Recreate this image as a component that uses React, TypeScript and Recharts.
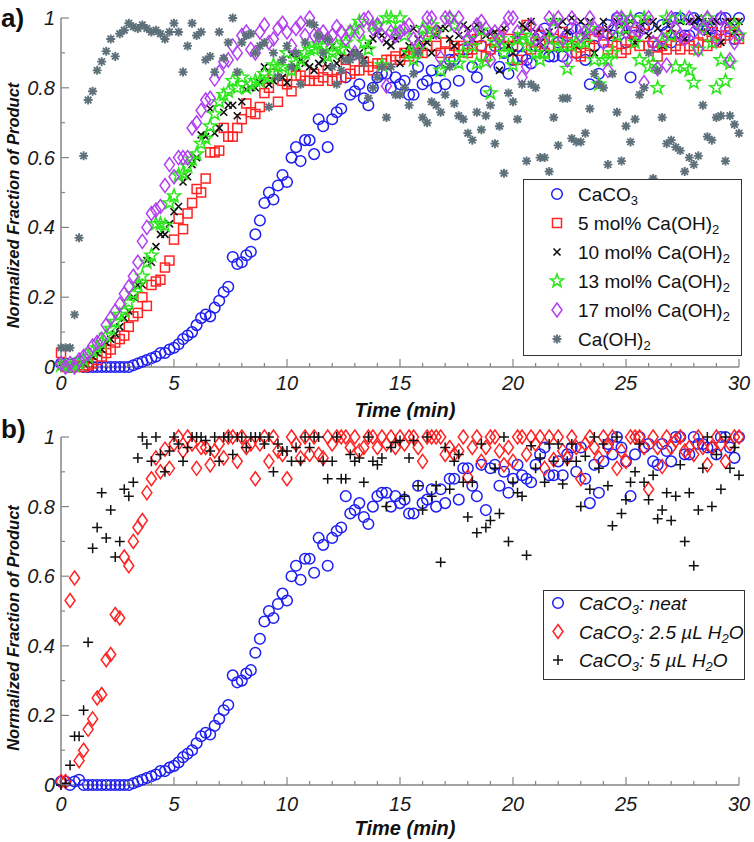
import React from 'react';
import { ScatterChart, Scatter, XAxis, YAxis, Legend } from 'recharts';

// sampling times (min), shared by every series
const TIME = [
  0, 0.2, 0.4, 0.6, 0.8, 1, 1.2, 1.4, 1.6, 1.8, 2, 2.2, 2.4, 2.6, 2.8, 3, 3.2, 3.4, 3.6, 3.8, 4, 4.2, 4.4, 4.6, 4.8,
  5, 5.2, 5.4, 5.6, 5.8, 6, 6.2, 6.4, 6.6, 6.8, 7, 7.2, 7.4, 7.6, 7.8, 8, 8.2, 8.4, 8.6, 8.8, 9, 9.2, 9.4, 9.6, 9.8,
  10, 10.2, 10.4, 10.6, 10.8, 11, 11.2, 11.4, 11.6, 11.8, 12, 12.2, 12.4, 12.6, 12.8, 13, 13.2, 13.4, 13.6, 13.8, 14, 14.2, 14.4, 14.6, 14.8,
  15, 15.2, 15.4, 15.6, 15.8, 16, 16.2, 16.4, 16.6, 16.8, 17, 17.2, 17.4, 17.6, 17.8, 18, 18.2, 18.4, 18.6, 18.8, 19, 19.2, 19.4, 19.6, 19.8,
  20, 20.2, 20.4, 20.6, 20.8, 21, 21.2, 21.4, 21.6, 21.8, 22, 22.2, 22.4, 22.6, 22.8, 23, 23.2, 23.4, 23.6, 23.8, 24, 24.2, 24.4, 24.6, 24.8,
  25, 25.2, 25.4, 25.6, 25.8, 26, 26.2, 26.4, 26.6, 26.8, 27, 27.2, 27.4, 27.6, 27.8, 28, 28.2, 28.4, 28.6, 28.8, 29, 29.2, 29.4, 29.6, 29.8,
  30,
];

// panel a
const CACO3 = [
  0.01, 0.01, 0, 0.01, 0.015, 0, 0, 0, 0, 0, 0, 0, 0, 0, 0, 0, 0.005, 0.01, 0.015, 0.02, 0.025, 0.03, 0.04, 0.04, 0.05,
  0.055, 0.065, 0.08, 0.09, 0.1, 0.12, 0.14, 0.15, 0.145, 0.17, 0.19, 0.215, 0.23, 0.315, 0.295, 0.3, 0.32, 0.33, 0.38, 0.42, 0.47, 0.5, 0.48, 0.52, 0.55,
  0.53, 0.6, 0.63, 0.59, 0.65, 0.65, 0.61, 0.71, 0.69, 0.63, 0.71, 0.73, 0.74, 0.83, 0.78, 0.79, 0.81, 0.77, 0.75, 0.8, 0.83, 0.84, 0.84, 0.8, 0.83,
  0.81, 0.82, 0.78, 0.78, 0.86, 0.81, 0.82, 0.85, 0.8, 0.85, 0.81, 0.88, 0.88, 0.82, 0.91, 0.91, 0.86, 0.83, 0.92, 0.79, 0.91, 0.92, 0.86, 0.9, 0.84,
  0.88, 0.92, 0.89, 0.88, 0.87, 0.92, 0.95, 0.97, 0.89, 0.89, 0.93, 0.89, 0.95, 0.97, 0.9, 0.97, 0.88, 0.81, 0.92, 0.84, 0.93, 0.98, 0.95, 1, 0.97,
  0.93, 0.83, 0.95, 1, 0.97, 0.98, 0.93, 0.92, 0.98, 0.96, 0.93, 1, 1, 0.95, 0.95, 1, 0.98, 0.98, 0.97, 0.97, 0.95, 1, 1, 0.97, 0.94,
  1,
];
const MOL5 = [
  0.04, 0, 0, 0, 0.005, 0, 0.005, 0.01, 0.02, 0.03, 0.04, 0.05, 0.07, 0.08, 0.09, 0.115, 0.145, 0.155, 0.2, 0.175, 0.235, 0.245, 0.25, 0.285, 0.305,
  0.365, 0.425, 0.395, 0.44, 0.47, 0.51, 0.5, 0.54, 0.615, 0.615, 0.62, 0.685, 0.66, 0.66, 0.685, 0.71, 0.755, 0.73, 0.725, 0.745, 0.785, 0.8, 0.84, 0.76, 0.82,
  0.81, 0.79, 0.835, 0.835, 0.82, 0.82, 0.84, 0.82, 0.83, 0.85, 0.82, 0.825, 0.83, 0.88, 0.84, 0.85, 0.85, 0.875, 0.86, 0.85, 0.87, 0.87, 0.88, 0.88, 0.89,
  0.88, 0.9, 0.89, 0.91, 0.9, 0.9, 0.92, 0.96, 0.92, 0.9, 0.93, 0.9, 0.92, 0.91, 0.92, 0.9, 0.91, 0.94, 0.92, 0.89, 0.91, 0.93, 0.95, 0.92, 0.94,
  0.92, 0.88, 0.94, 0.98, 0.91, 0.93, 0.95, 0.9, 0.92, 0.94, 0.92, 0.96, 0.93, 0.92, 0.9, 0.89, 0.9, 0.92, 0.94, 0.96, 0.95, 0.91, 0.93, 0.92, 0.9,
  0.91, 0.93, 0.96, 0.92, 0.98, 0.92, 0.93, 0.89, 0.92, 0.91, 0.95, 0.92, 0.91, 0.94, 0.92, 0.91, 0.93, 0.95, 0.92, 0.96, 0.93, 0.94, 0.95, 0.96, 0.985,
  0.94,
];
const MOL10 = [
  0.01, 0, 0, 0.005, 0.005, 0.01, 0.02, 0.03, 0.04, 0.05, 0.07, 0.08, 0.095, 0.115, 0.14, 0.16, 0.2, 0.235, 0.235, 0.305, 0.3, 0.345, 0.38, 0.38, 0.41,
  0.445, 0.46, 0.53, 0.545, 0.58, 0.6, 0.665, 0.66, 0.74, 0.67, 0.685, 0.73, 0.75, 0.75, 0.72, 0.76, 0.795, 0.8, 0.8, 0.815, 0.86, 0.81, 0.82, 0.83, 0.83,
  0.815, 0.895, 0.86, 0.88, 0.87, 0.86, 0.85, 0.87, 0.88, 0.86, 0.92, 0.87, 0.89, 0.88, 0.9, 0.9, 0.9, 0.88, 0.92, 0.94, 0.96, 0.95, 0.93, 0.92, 0.94,
  0.87, 0.9, 0.92, 0.97, 0.94, 0.92, 0.93, 0.9, 0.95, 0.97, 0.97, 0.94, 0.92, 0.95, 0.98, 0.97, 0.94, 0.98, 0.96, 0.95, 0.955, 0.96, 0.85, 0.97, 0.92,
  0.9, 0.95, 0.98, 0.97, 0.99, 0.96, 0.93, 0.91, 0.96, 0.99, 0.98, 0.99, 0.96, 1, 0.92, 0.99, 0.95, 0.99, 0.9, 0.96, 0.99, 0.97, 0.95, 0.99, 0.98,
  0.96, 0.99, 0.93, 0.97, 0.99, 0.95, 0.99, 0.97, 0.92, 0.99, 0.97, 0.95, 0.99, 0.94, 0.99, 0.99, 1, 0.99, 0.96, 0.99, 0.99, 0.93, 0.99, 0.99, 0.96,
  0.99,
];
const MOL13 = [
  0.005, 0.005, 0, 0.005, 0.01, 0.02, 0.03, 0.045, 0.055, 0.07, 0.09, 0.11, 0.13, 0.15, 0.16, 0.185, 0.21, 0.235, 0.26, 0.3, 0.32, 0.41, 0.41, 0.405, 0.47,
  0.49, 0.55, 0.555, 0.575, 0.595, 0.61, 0.64, 0.655, 0.69, 0.725, 0.76, 0.78, 0.79, 0.82, 0.8, 0.83, 0.8, 0.81, 0.82, 0.82, 0.84, 0.83, 0.865, 0.86, 0.86,
  0.9, 0.85, 0.87, 0.88, 0.9, 0.91, 0.91, 0.925, 0.92, 0.89, 0.9, 0.92, 0.91, 0.93, 0.96, 0.97, 0.99, 0.93, 0.91, 0.98, 0.98, 0.865, 1, 1, 0.96,
  1, 0.95, 0.9, 0.88, 0.91, 0.97, 0.95, 0.98, 0.96, 0.85, 0.87, 1, 0.98, 0.87, 0.9, 0.94, 0.92, 0.87, 0.965, 0.875, 0.785, 0.93, 0.94, 0.9, 0.92,
  0.865, 0.94, 0.95, 0.92, 0.94, 0.9, 0.88, 0.9, 0.94, 0.99, 0.92, 0.92, 0.855, 0.92, 0.93, 0.94, 0.93, 0.97, 0.88, 0.81, 0.88, 0.88, 0.9, 0.95, 1,
  0.97, 1, 0.93, 0.88, 1, 0.86, 0.87, 0.8, 0.93, 1, 0.95, 0.86, 1, 0.86, 0.85, 0.815, 0.91, 0.97, 1, 0.93, 0.8, 0.88, 0.82, 0.87, 0.98,
  0.95,
];
const MOL17 = [
  0.01, 0, 0.01, 0, 0.02, 0.03, 0.04, 0.06, 0.07, 0.08, 0.12, 0.14, 0.16, 0.18, 0.21, 0.23, 0.26, 0.3, 0.36, 0.4, 0.44, 0.45, 0.46, 0.52, 0.58,
  0.545, 0.6, 0.6, 0.6, 0.685, 0.7, 0.735, 0.765, 0.77, 0.825, 0.845, 0.875, 0.88, 0.92, 0.9, 0.95, 0.96, 0.91, 0.9, 0.96, 0.98, 0.93, 0.94, 0.97, 0.985,
  0.96, 0.92, 0.97, 0.985, 0.95, 1, 0.95, 0.95, 0.96, 0.94, 0.95, 0.975, 0.96, 0.94, 0.96, 0.9, 0.96, 0.995, 1, 0.97, 0.98, 0.95, 0.805, 0.96, 0.95,
  0.96, 0.97, 0.98, 0.94, 0.92, 0.96, 1, 1, 0.96, 0.885, 1, 1, 0.98, 1, 0.96, 0.94, 0.95, 0.98, 0.99, 0.97, 0.88, 0.96, 0.94, 0.97, 1,
  1, 0.96, 0.83, 0.86, 0.98, 0.94, 0.96, 0.93, 1, 0.97, 1, 0.94, 0.88, 1, 0.97, 0.95, 0.96, 1, 0.97, 0.96, 0.93, 0.85, 0.97, 1, 1,
  0.96, 0.99, 0.97, 0.96, 0.815, 1, 0.93, 0.855, 0.94, 0.865, 1, 0.97, 0.95, 0.94, 1, 0.96, 0.91, 0.97, 1, 0.98, 0.94, 1, 0.97, 0.88, 0.93,
  0.95,
];
const CAOH2 = [
  0.055, 0.055, 0.055, 0.15, 0.37, 0.605, 0.765, 0.79, 0.85, 0.875, 0.905, 0.94, 0.89, 0.955, 0.965, 0.985, 0.975, 0.97, 0.98, 0.97, 0.96, 0.965, 0.955, 0.94, 0.96,
  0.985, 0.96, 0.845, 0.92, 0.985, 0.95, 0.96, 0.88, 0.89, 0.845, 0.96, 0.885, 0.93, 1, 0.845, 0.93, 0.95, 0.955, 0.9, 0.92, 0.93, 0.745, 0.9, 0.83, 0.88,
  0.92, 0.86, 0.9, 0.81, 0.93, 0.985, 0.98, 0.95, 0.9, 0.94, 0.86, 0.81, 0.85, 0.88, 0.88, 0.9, 0.89, 0.87, 0.77, 0.8, 0.83, 0.86, 0.715, 0.86, 0.78,
  0.78, 0.8, 0.75, 0.84, 0.9, 0.715, 0.7, 0.76, 0.75, 0.73, 0.78, 0.86, 0.755, 0.72, 0.71, 0.67, 0.65, 0.73, 0.68, 0.72, 0.75, 0.64, 0.69, 0.555, 0.785,
  0.76, 0.71, 0.81, 0.59, 0.81, 0.8, 0.6, 0.6, 0.56, 0.715, 0.635, 0.77, 0.77, 0.655, 0.645, 0.645, 0.67, 0.74, 0.84, 0.81, 0.8, 0.58, 0.84, 0.73, 0.59,
  0.69, 0.645, 0.71, 0.78, 0.8, 0.9, 0.54, 0.85, 0.715, 0.64, 0.65, 0.63, 0.62, 0.56, 0.6, 0.58, 0.605, 0.75, 0.66, 0.65, 0.715, 0.72, 0.59, 0.72, 0.695,
  0.67,
];

// panel b (neat CaCO3 is the same run as in panel a)
const WATER_2_5 = [
  0.01, 0.01, 0.53, 0.595, 0.07, 0.1, 0.16, 0.19, 0.25, 0.26, 0.36, 0.375, 0.49, 0.48, 0.655, 0.63, 0.7, 0.74, 0.76, 0.84, 0.88, 0.94, 0.9, 0.965, 0.91,
  0.98, 1, 0.96, 1, 0.98, 0.91, 0.97, 0.97, 0.92, 0.96, 0.98, 0.94, 1, 1, 0.93, 1, 0.97, 0.98, 0.88, 0.98, 1, 0.93, 1, 0.96, 0.95,
  0.88, 1, 0.98, 0.94, 1, 0.95, 1, 0.95, 0.94, 1, 0.98, 1, 1, 1, 0.97, 1, 0.96, 0.97, 1, 1, 0.97, 1, 0.98, 1, 0.97,
  1, 0.98, 1, 1, 0.97, 0.93, 1, 1, 1, 1, 0.95, 0.97, 0.95, 0.96, 1, 0.885, 0.97, 1, 0.93, 0.97, 1, 1, 0.96, 0.92, 0.97,
  0.93, 1, 1, 0.95, 1, 0.98, 1, 0.91, 1, 0.935, 1, 0.96, 0.94, 1, 0.97, 0.88, 0.98, 1, 0.97, 0.94, 1, 0.97, 1, 0.91, 0.96,
  0.93, 1, 1, 1, 0.97, 0.85, 1, 0.97, 0.915, 1, 0.97, 0.99, 1, 0.96, 0.97, 0.95, 1, 0.97, 0.92, 0.97, 1, 0.98, 0.93, 0.98, 1,
  1,
];
const WATER_5 = [
  0, 0.005, 0.057, 0.14, 0.14, 0.215, 0.41, 0.68, 0.74, 0.84, 0.71, 0.79, 0.655, 0.7, 0.85, 0.83, 0.87, 0.94, 1, 0.98, 0.93, 1, 0.95, 0.9, 0.96,
  1, 0.98, 0.93, 0.97, 1, 1, 1, 0.99, 0.96, 1, 0.93, 1, 1, 0.95, 1, 1, 0.97, 1, 1, 1, 0.98, 1, 0.9, 0.98, 0.96,
  0.96, 0.93, 0.97, 0.93, 1, 0.97, 1, 1, 0.93, 0.88, 0.93, 1, 0.88, 0.88, 0.95, 0.93, 0.94, 0.87, 1, 0.93, 0.92, 0.94, 0.8, 0.97, 0.985,
  0.99, 0.83, 0.94, 0.99, 0.86, 0.79, 1, 0.83, 0.86, 0.64, 0.97, 0.85, 0.93, 0.95, 0.87, 0.77, 0.87, 0.725, 0.98, 0.74, 0.76, 0.91, 0.78, 1, 0.7,
  0.87, 0.84, 0.83, 0.66, 0.975, 0.91, 0.94, 0.87, 0.98, 0.93, 0.98, 0.865, 0.93, 0.98, 0.93, 0.8, 0.945, 0.85, 1, 0.91, 0.98, 0.86, 0.745, 1, 0.78,
  0.82, 0.87, 0.9, 0.98, 0.87, 0.82, 0.89, 0.765, 0.79, 0.84, 0.76, 0.83, 0.92, 0.7, 0.84, 0.63, 0.79, 0.91, 1, 0.8, 0.95, 0.85, 1, 0.91, 0.97,
  0.89,
];

const X_TICKS = [0, 1, 2, 3, 4, 5, 6, 7, 8, 9, 10, 11, 12, 13, 14, 15, 16, 17, 18, 19, 20, 21, 22, 23, 24, 25, 26, 27, 28, 29, 30];
const Y_TICKS = [0, 0.1, 0.2, 0.3, 0.4, 0.5, 0.6, 0.7, 0.8, 0.9, 1];

const FONT = '"Liberation Sans", Arial, Helvetica, sans-serif';
const AXIS = '#858585';
const BLUE = '#1e1ef2';
const RED = '#ff2323';
const BLACK = '#111111';
const GREEN = '#2fe61f';
const PURPLE = '#b33ff0';
const GRAY = '#5e717b';

type Pt = { cx?: number; cy?: number };

const circle = ({ cx = 0, cy = 0 }: Pt) => (
  <circle cx={cx} cy={cy} r={5.3} fill="none" stroke={BLUE} strokeWidth={1.5} />
);
const square = ({ cx = 0, cy = 0 }: Pt) => (
  <rect x={cx - 4.5} y={cy - 4.5} width={9} height={9} fill="none" stroke={RED} strokeWidth={1.5} />
);
const cross = ({ cx = 0, cy = 0 }: Pt) => (
  <path d={`M${cx - 3.5},${cy - 3.5}L${cx + 3.5},${cy + 3.5}M${cx - 3.5},${cy + 3.5}L${cx + 3.5},${cy - 3.5}`} stroke={BLACK} strokeWidth={1.6} />
);
const plus = ({ cx = 0, cy = 0 }: Pt) => (
  <path d={`M${cx - 5},${cy}L${cx + 5},${cy}M${cx},${cy - 5}L${cx},${cy + 5}`} stroke={BLACK} strokeWidth={1.5} />
);
const star = ({ cx = 0, cy = 0 }: Pt) => {
  const pts: string[] = [];
  for (let k = 0; k < 10; k++) {
    const r = k % 2 ? 2.8 : 6.8;
    const a = ((-90 + k * 36) * Math.PI) / 180;
    pts.push(`${cx + r * Math.cos(a)},${cy + r * Math.sin(a)}`);
  }
  return <polygon points={pts.join(' ')} fill="none" stroke={GREEN} strokeWidth={1.6} />;
};
const diamond = (color: string) => ({ cx = 0, cy = 0 }: Pt) => (
  <polygon points={`${cx},${cy - 7} ${cx + 5},${cy} ${cx},${cy + 7} ${cx - 5},${cy}`} fill="none" stroke={color} strokeWidth={1.5} />
);
const asterisk = ({ cx = 0, cy = 0 }: Pt) => (
  <path
    d={`M${cx - 4.5},${cy}L${cx + 4.5},${cy}M${cx},${cy - 4.5}L${cx},${cy + 4.5}M${cx - 3.3},${cy - 3.3}L${cx + 3.3},${cy + 3.3}M${cx - 3.3},${cy + 3.3}L${cx + 3.3},${cy - 3.3}`}
    stroke={GRAY}
    strokeWidth={1.9}
  />
);

type Series = { name: string; data: number[]; shape: (p: Pt) => React.ReactElement };

const SERIES_A: Series[] = [
  { name: 'CaCO_3', data: CACO3, shape: circle },
  { name: '5 mol% Ca(OH)_2', data: MOL5, shape: square },
  { name: '10 mol% Ca(OH)_2', data: MOL10, shape: cross },
  { name: '13 mol% Ca(OH)_2', data: MOL13, shape: star },
  { name: '17 mol% Ca(OH)_2', data: MOL17, shape: diamond(PURPLE) },
  { name: 'Ca(OH)_2', data: CAOH2, shape: asterisk },
];
const SERIES_B: Series[] = [
  { name: 'CaCO_3: neat', data: CACO3, shape: circle },
  { name: 'CaCO_3: 2.5 µL H_2O', data: WATER_2_5, shape: diamond(RED) },
  { name: 'CaCO_3: 5 µL H_2O', data: WATER_5, shape: plus },
];

const toPoints = (ys: number[]) => TIME.map((t, i) => ({ x: t, y: ys[i] }));

// "CaCO_3" -> CaCO with subscript 3
function withSubs(label: string, subSize: number) {
  const parts = label.split(/_(\d)/);
  const out: React.ReactNode[] = [];
  let down = false;
  parts.forEach((p, i) => {
    if (i % 2 === 1) {
      out.push(<tspan key={i} dy={6} fontSize={subSize}>{p}</tspan>);
      down = true;
    } else if (p) {
      out.push(<tspan key={i} dy={down ? -6 : 0}>{p}</tspan>);
      down = false;
    }
  });
  return out;
}

const xTick = (dy: number) => (props: any) => {
  const { x, y, payload } = props;
  const v = payload.value as number;
  const major = v % 5 === 0;
  return (
    <g>
      <line x1={x} x2={x} y1={y} y2={y - (major ? 8 : 4)} stroke={AXIS} strokeWidth={1.2} />
      {major && (
        <text x={x} y={y + dy} textAnchor="middle" dominantBaseline="central" fontFamily={FONT} fontStyle="italic" fontSize={20} fill="#1a1a1a">
          {v}
        </text>
      )}
    </g>
  );
};

const yTick = (props: any) => {
  const { x, y, payload } = props;
  const v = payload.value as number;
  const major = Math.round(v * 10) % 2 === 0;
  return (
    <g>
      <line x1={x} x2={x + (major ? 8 : 4)} y1={y} y2={y} stroke={AXIS} strokeWidth={1.2} />
      {major && (
        <text x={x - 6} y={y} textAnchor="end" dominantBaseline="central" fontFamily={FONT} fontStyle="italic" fontSize={20} fill="#1a1a1a">
          {v}
        </text>
      )}
    </g>
  );
};

type LegendCfg = {
  left: number; top: number; width: number; height: number; first: number; gap: number;
  markX: number; textX: number; italic: boolean; fontSize: number; subSize: number;
};

function LegendBox({ series, cfg }: { series: Series[]; cfg: LegendCfg }) {
  return (
    <svg width={cfg.width} height={cfg.height} style={{ display: 'block' }}>
      <rect x={0.5} y={0.5} width={cfg.width - 1} height={cfg.height - 1} fill="#fff" stroke="#333" strokeWidth={1} />
      {series.map((s, i) => {
        const cy = cfg.first + i * cfg.gap;
        return (
          <g key={s.name}>
            {s.shape({ cx: cfg.markX, cy })}
            <text x={cfg.textX} y={cy} dominantBaseline="central" fontFamily={FONT} fontSize={cfg.fontSize} fontStyle={cfg.italic ? 'italic' : 'normal'} fill="#111">
              {withSubs(s.name, cfg.subSize)}
            </text>
          </g>
        );
      })}
    </svg>
  );
}

function Panel({ tag, series, height, top, axisH, tickDy, titleDy, tagDy, legend }: {
  tag: string; series: Series[]; height: number; top: number; axisH: number; tickDy: number; titleDy: number; tagDy: number;
  legend: LegendCfg;
}) {
  return (
    <ScatterChart width={754} height={height} margin={{ top, right: 15, bottom: 0, left: 0 }}>
      <XAxis
        type="number"
        dataKey="x"
        domain={[0, 30]}
        ticks={X_TICKS}
        interval={0}
        height={axisH}
        tickSize={0}
        tickMargin={0}
        tickLine={false}
        axisLine={{ stroke: AXIS, strokeWidth: 1.5 }}
        tick={xTick(tickDy)}
        label={(p: any) => {
          const vb = p.viewBox;
          return (
            <text x={vb.x + vb.width / 2 + 5} y={vb.y + 43} textAnchor="middle" dominantBaseline="central" fontFamily={FONT} fontWeight="bold" fontStyle="italic" fontSize={20} fill="#111">
              Time (min)
            </text>
          );
        }}
      />
      <YAxis
        type="number"
        dataKey="y"
        domain={[0, 1]}
        ticks={Y_TICKS}
        interval={0}
        width={61}
        tickSize={0}
        tickMargin={0}
        tickLine={false}
        axisLine={{ stroke: AXIS, strokeWidth: 1.5 }}
        tick={yTick}
        label={(p: any) => {
          const vb = p.viewBox;
          const cy = vb.y + vb.height / 2 + titleDy;
          return (
            <g>
              <text x={1} y={vb.y + tagDy} fontFamily={FONT} fontWeight="bold" fontSize={26} fill="#111">{tag}</text>
              <text x={13} y={cy} transform={`rotate(-90, 13, ${cy})`} textAnchor="middle" dominantBaseline="central" fontFamily={FONT} fontWeight="bold" fontStyle="italic" fontSize={16.5} fill="#111">
                Normalized Fraction of Product
              </text>
            </g>
          );
        }}
      />
      {series.map((s) => (
        <Scatter key={s.name} name={s.name} data={toPoints(s.data)} shape={s.shape as any} isAnimationActive={false} />
      ))}
      <Legend
        layout="horizontal"
        verticalAlign="middle"
        align="center"
        wrapperStyle={{ left: legend.left, top: legend.top, width: legend.width, height: legend.height }}
        content={() => <LegendBox series={series} cfg={legend} />}
      />
    </ScatterChart>
  );
}

export default function App() {
  return (
    <div style={{ position: 'relative', width: 754, height: 842, background: '#fff' }}>
      <style>{'body{margin:0}'}</style>
      <div style={{ position: 'absolute', left: 0, top: 0 }}>
        <Panel
          tag="a)"
          series={SERIES_A}
          height={420}
          top={18}
          axisH={53}
          tickDy={16}
          titleDy={13}
          tagDy={9}
          legend={{ left: 523, top: 179, width: 219, height: 177, first: 15, gap: 29, markX: 34, textX: 55, italic: false, fontSize: 19, subSize: 13 }}
        />
      </div>
      <div style={{ position: 'absolute', left: 0, top: 409 }}>
        <Panel
          tag="b)"
          series={SERIES_B}
          height={433}
          top={28}
          axisH={57}
          tickDy={19}
          titleDy={17}
          tagDy={1}
          legend={{ left: 543, top: 181, width: 202, height: 90, first: 13, gap: 28.5, markX: 15, textX: 36, italic: true, fontSize: 19, subSize: 13 }}
        />
      </div>
    </div>
  );
}
